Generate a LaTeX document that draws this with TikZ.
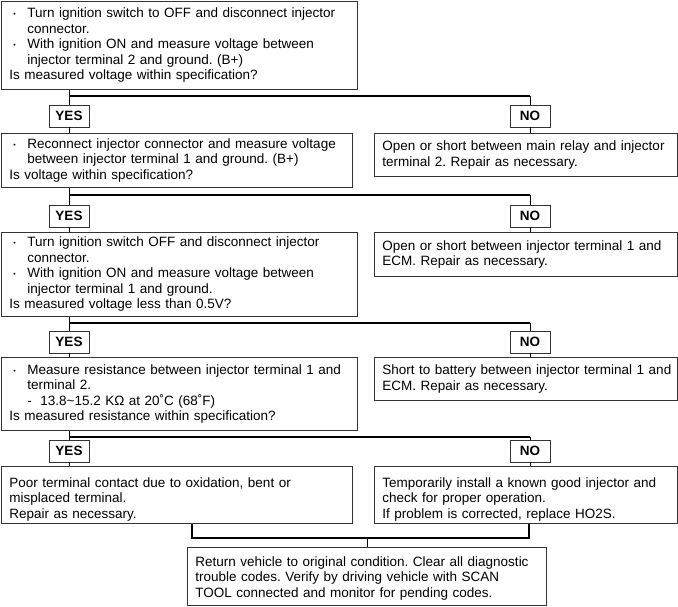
\documentclass[tikz,border=0pt]{standalone}
\usepackage{fontspec}
\setmainfont{Liberation Sans}
\frenchspacing
\newcommand{\bl}{\makebox[18pt][l]{\hspace{4pt}\raisebox{0.15ex}{\scriptsize\textbullet}}}
\newcommand{\ind}{\hspace*{18pt}}
\newcommand{\lowtop}{\rule{0pt}{18pt}}
\begin{document}
\begin{tikzpicture}[x=1pt,y=-1pt]
\tikzstyle{qbox}=[draw=black!80,line width=0.8pt,anchor=north west,align=left,inner xsep=8pt,inner ysep=0pt,font=\fontsize{13.5}{15.5}\selectfont\frenchspacing]
\tikzstyle{yn}=[draw=black!80,line width=0.8pt,minimum width=40pt,minimum height=22pt,inner sep=0pt,font=\fontsize{13.5}{15.5}\selectfont\bfseries]
\tikzstyle{link}=[line width=0.8pt]
\tikzstyle{hline}=[line width=1.5pt]
\useasboundingbox (0,0) rectangle (678,607);
\node[qbox,text width=340pt,minimum height=88pt] (q1) at (1,1) {\bl Turn ignition switch to OFF and disconnect injector\\ \ind connector.\\ \bl With ignition ON and measure voltage between\\ \ind injector terminal 2 and ground. (B+)\\ Is measured voltage within specification?};
\node[qbox,text width=335pt,minimum height=54pt] (q2) at (1,133) {\bl Reconnect injector connector and measure voltage\\ \ind between injector terminal 1 and ground. (B+)\\ Is voltage within specification?};
\node[qbox,text width=340pt,minimum height=84pt] (q3) at (1,232) {\bl Turn ignition switch OFF and disconnect injector\\ \ind connector.\\ \bl With ignition ON and measure voltage between\\ \ind injector terminal 1 and ground.\\ Is measured voltage less than 0.5V?};
\node[qbox,text width=340pt,minimum height=73pt] (q4) at (1,357) {\bl Measure resistance between injector terminal 1 and\\ \ind terminal 2.\\ \ind\makebox[13pt][l]{-}13.8\textasciitilde 15.2 KΩ at 20˚C (68˚F)\\ Is measured resistance within specification?};
\node[qbox,text width=335pt,minimum height=57pt] (q5) at (1,466) {\lowtop Poor terminal contact due to oxidation, bent or\\ misplaced terminal.\\ Repair as necessary.};
\node[qbox,text width=287pt,minimum height=43pt] (r2) at (374,133) {Open or short between main relay and injector\\ terminal 2. Repair as necessary.};
\node[qbox,text width=287pt,minimum height=44pt] (r3) at (374,232) {Open or short between injector terminal 1 and\\ ECM. Repair as necessary.};
\node[qbox,text width=287pt,minimum height=43pt] (r4) at (374,357) {\mbox{Short to battery between injector terminal 1 and}\\ ECM. Repair as necessary.};
\node[qbox,text width=287pt,minimum height=57pt] (r5) at (374,466) {\lowtop Temporarily install a known good injector and\\ check for proper operation.\\ If problem is corrected, replace HO2S.};
\node[qbox,text width=343pt,minimum height=58pt] (fin) at (187,547) {\rule{0pt}{13pt}Return vehicle to original condition. Clear all diagnostic\\ trouble codes. Verify by driving vehicle with SCAN\\ TOOL connected and monitor for pending codes.};
\node[yn] (y1) at (69,116) {YES};
\node[yn] (n1) at (530,116) {NO};
\node[yn] (y2) at (69,216) {YES};
\node[yn] (n2) at (530,216) {NO};
\node[yn] (y3) at (69,342) {YES};
\node[yn] (n3) at (530,342) {NO};
\node[yn] (y4) at (69,451) {YES};
\node[yn] (n4) at (530,451) {NO};
\coordinate (h1) at (69,96);
\coordinate (h2) at (69,195);
\coordinate (h3) at (69,323);
\coordinate (h4) at (69,437);
\coordinate (bl) at (192,538);
\coordinate (br) at (529,538);
\draw[link] (q1.south -| y1) -- (y1) (y1) -- (y1.south |- q2.north) (h1 -| n1) -- (n1) (n1) -- (n1.south |- r2.north);
\draw[hline] (h1) -- (h1 -| n1);
\draw[link] (q2.south -| y2) -- (y2) (y2) -- (y2.south |- q3.north) (h2 -| n2) -- (n2) (n2) -- (n2.south |- r3.north);
\draw[hline] (h2) -- (h2 -| n2);
\draw[link] (q3.south -| y3) -- (y3) (y3) -- (y3.south |- q4.north) (h3 -| n3) -- (n3) (n3) -- (n3.south |- r4.north);
\draw[hline] (h3) -- (h3 -| n3);
\draw[link] (q4.south -| y4) -- (y4) (y4) -- (y4.south |- q5.north) (h4 -| n4) -- (n4) (n4) -- (n4.south |- r5.north);
\draw[hline] (h4) -- (h4 -| n4);
\draw[line width=1.2pt] (q5.south -| bl) -- (bl) -- (br) -- (r5.south -| br);
\draw[link] (fin.north) -- (fin.north |- bl);
\end{tikzpicture}
\end{document}
